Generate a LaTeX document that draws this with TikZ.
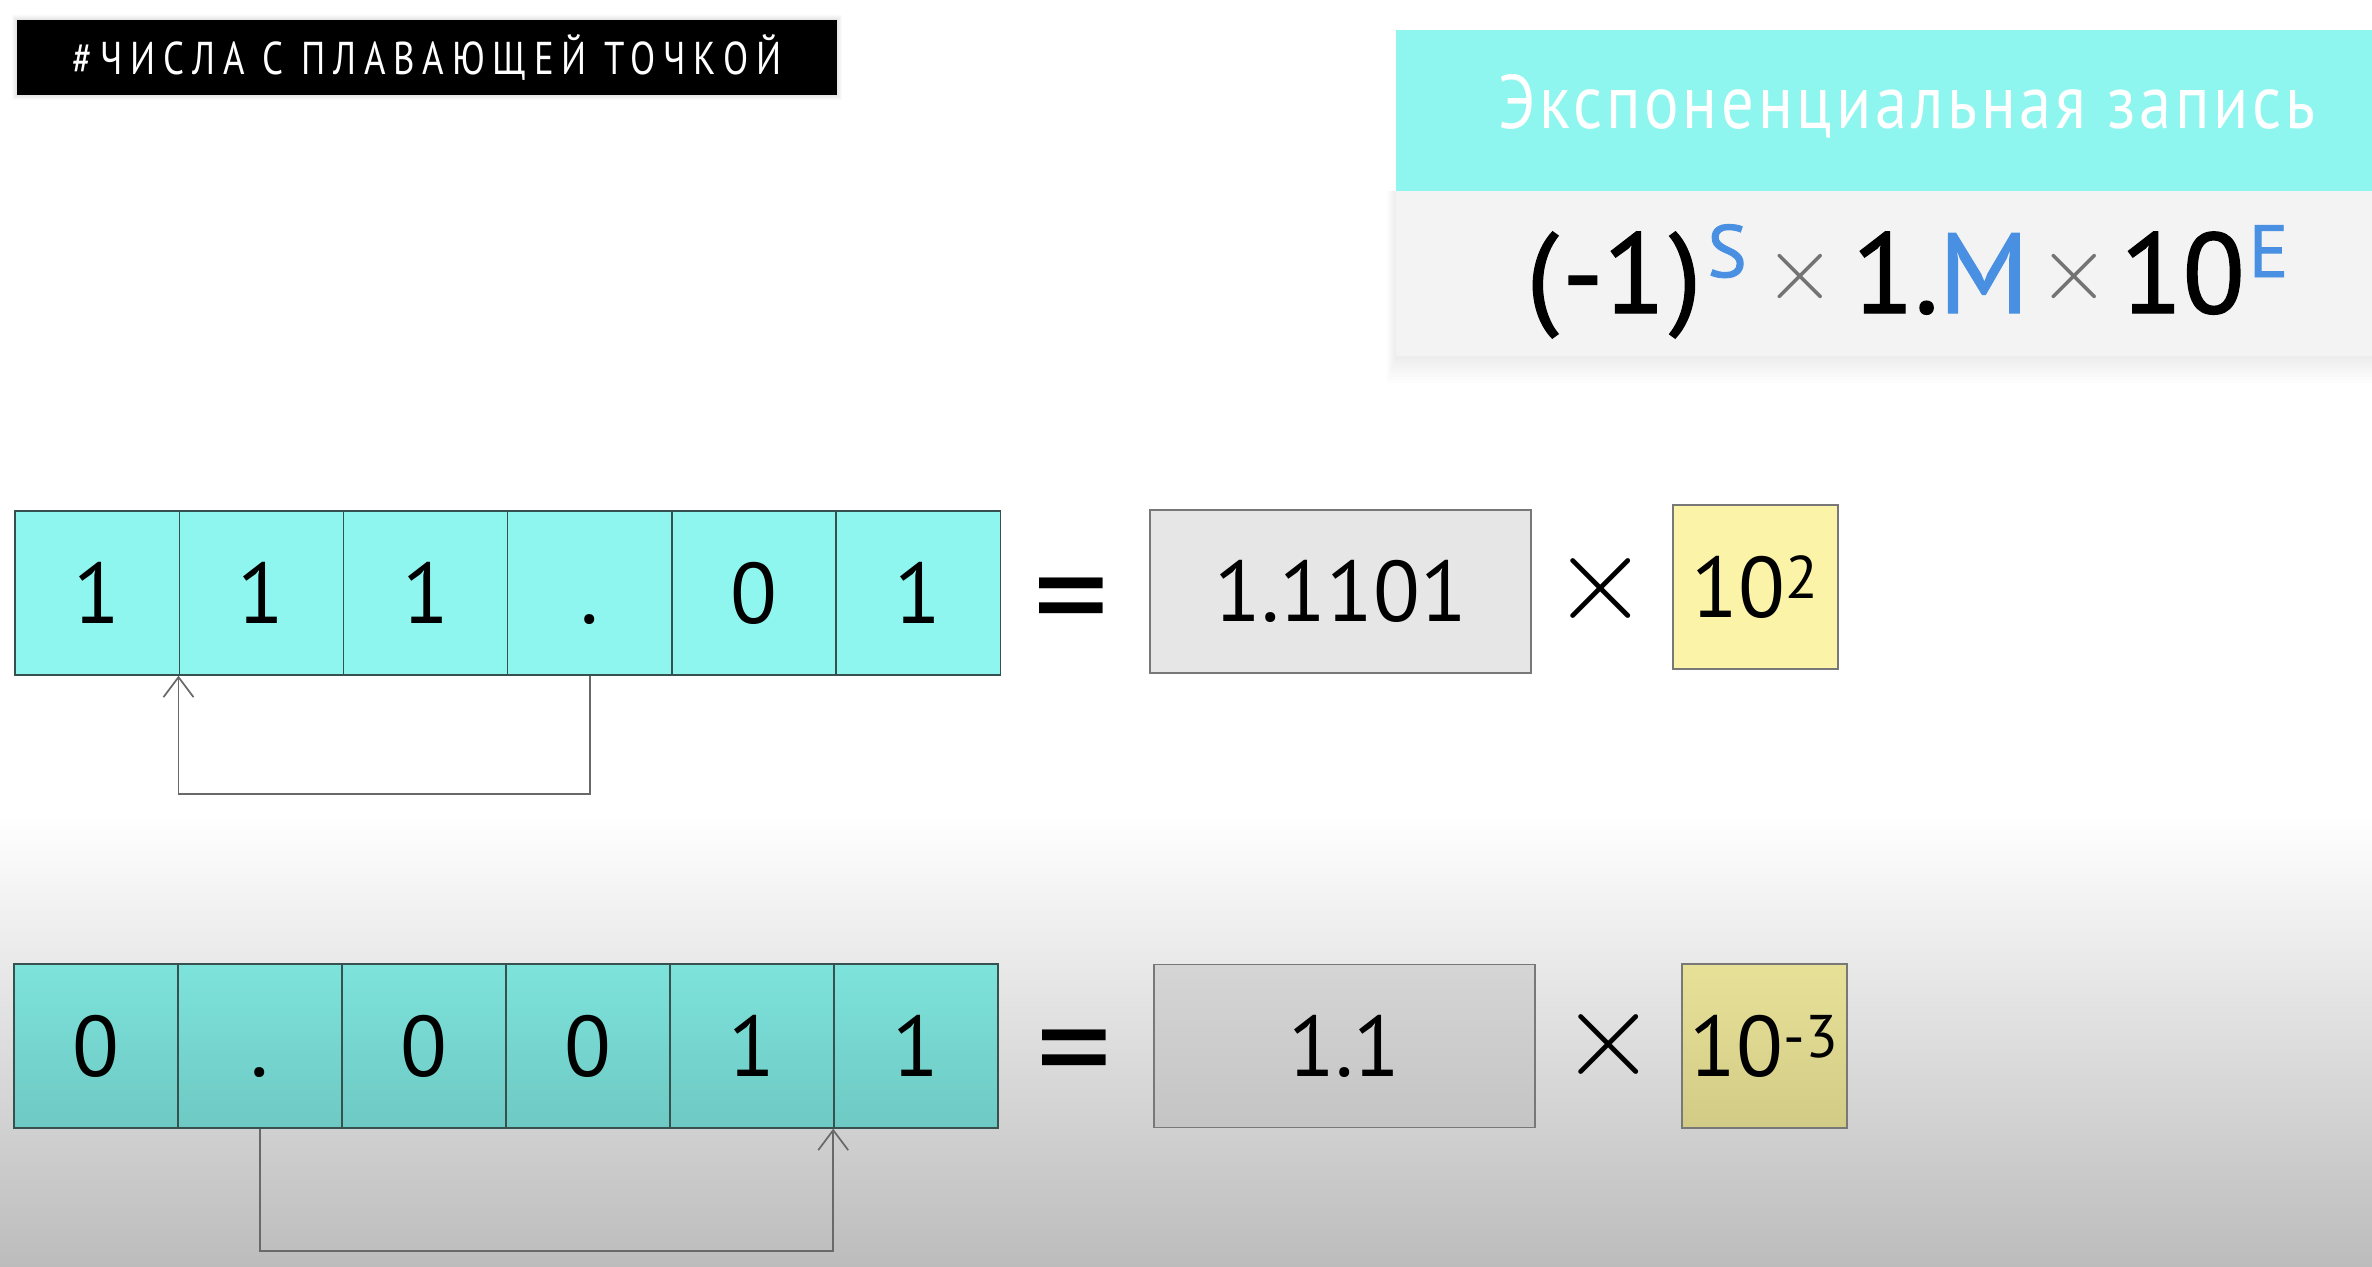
\documentclass[tikz,border=0pt]{standalone}
\usepackage{fontspec}
\setmainfont{PT Sans}
\newfontfamily\titlefont[FakeStretch=0.8,LetterSpace=17]{PT Sans}
\newfontfamily\headfont[FakeStretch=0.85,LetterSpace=5]{PT Sans}
\newfontfamily\formfont[FakeBold=1.2]{PT Sans}
\usetikzlibrary{arrows.meta}

\definecolor{cellcyan}{RGB}{142,246,239}
\definecolor{cellcyantp}{RGB}{125,227,219}
\definecolor{cellcyanbt}{RGB}{110,201,195}
\definecolor{mantgray}{RGB}{230,230,230}
\definecolor{mantgraytp}{RGB}{213,213,213}
\definecolor{mantgraybt}{RGB}{196,196,196}
\definecolor{expyel}{RGB}{251,243,168}
\definecolor{expyeltp}{RGB}{231,225,152}
\definecolor{expyelbt}{RGB}{210,203,134}
\definecolor{cellline}{RGB}{55,80,80}
\definecolor{boxline}{RGB}{120,120,120}
\definecolor{arrline}{RGB}{105,105,105}
\definecolor{formblue}{RGB}{74,144,226}
\definecolor{panelgray}{RGB}{243,243,243}
\definecolor{bgbottom}{RGB}{188,188,188}

% superscript and times sign of the formula
\newcommand\supblue[1]{\raisebox{18pt}{\fontsize{37}{37}\selectfont\color{formblue}#1}}
\newcommand\tmsgray{\raisebox{7pt}{\color{black!55}\scalebox{4.6}{\normalsize$\times$}}}

\tikzset{
  cellbox/.style={draw=cellline, line width=0.7pt, fill=cellcyan, inner sep=0pt,
    minimum width=82.1pt, minimum height=82pt, text height=30pt, text depth=0pt,
    font=\fontsize{43}{43}\selectfont},
  cellboxdk/.style={cellbox, top color=cellcyantp, bottom color=cellcyanbt},
  mantbox/.style={draw=boxline, line width=0.8pt, fill=mantgray, inner sep=0pt,
    minimum width=190.5pt, minimum height=81.5pt, text height=30pt, text depth=0pt,
    font=\fontsize{43}{43}\selectfont},
  mantboxdk/.style={mantbox, top color=mantgraytp, bottom color=mantgraybt},
  expbox/.style={draw=boxline, line width=0.8pt, fill=expyel, inner sep=0pt,
    minimum width=82.5pt, minimum height=82pt, text height=30pt, text depth=0pt,
    font=\fontsize{43}{43}\selectfont},
  expboxdk/.style={expbox, top color=expyeltp, bottom color=expyelbt},
  eqsign/.style={inner sep=0pt, font=\fontsize{75}{75}\selectfont},
  timesign/.style={inner sep=0pt},
  shiftarrow/.style={draw=arrline, line width=0.85pt, -{Straight Barb[length=10pt,width=15pt]}}
}

\begin{document}
\begin{tikzpicture}[x=0.5pt,y=-0.5pt]
\useasboundingbox (0,0) rectangle (2372,1266);

%Shape: Background
\fill[white] (0,0) rectangle (2372,1266);
\shade[top color=white, bottom color=bgbottom] (0,815) rectangle (2372,1266);

%Shape: Title bar
\foreach \k in {1,...,5}
  \fill[black, opacity=0.02] ({17-\k},{20-\k}) rectangle ({837+\k},{95+\k});
\node[fill=black, text=white, minimum width=410pt, minimum height=37.5pt, inner sep=0pt,
  font=\titlefont\fontsize{23}{23}\selectfont] (title) at (427,57.5) {\#ЧИСЛА С ПЛАВАЮЩЕЙ ТОЧКОЙ};

%Shape: Panel
\foreach \k in {1,...,9}
  \fill[black, opacity=0.008] ({1396-\k},191) rectangle (2372,{356+3*\k});
\fill[panelgray] (1396,191) rectangle (2372,356);
\fill[cellcyan] (1396,30) rectangle (2372,191);
% Text Node
\node[text=white, inner sep=0pt, font=\headfont\fontsize{38}{38}\selectfont] (headtxt) at (1907,106) {Экспоненциальная запись};
% Text Node
\node[anchor=base west, inner sep=0pt, font=\formfont\fontsize{57}{57}\selectfont] (formula) at (1526,313)
  {(\hspace{2pt}-1\hspace{2pt})\hspace{3pt}\supblue{S}\hspace{9pt}\tmsgray\hspace{8pt}1.{\color{formblue}M}\hspace{5pt}\tmsgray\hspace{5pt}10\hspace{2pt}\supblue{E}};

%Row: 111.01
\foreach \d [count=\i] in {1,1,1,.,0,1}
  \node[cellbox] (a\i) at ({-67.1+164.2*\i},593) {\d};
\node[eqsign] (aeq) at (1071,612.5) {=};
\node[mantbox] (amant) at (1340.5,591.5) {1.1101};
\node[timesign] (atimes) at (1601,588) {\scalebox{6.2}{$\times$}};
\node[expbox] (aexp) at (1755.5,587) {10\textsuperscript{2}};
\draw[shiftarrow] (a4.south) -- ++(0,118) -| (a2.south west);

%Row: 0.0011
\foreach \d [count=\i] in {0,.,0,0,1,1}
  \node[cellboxdk] (b\i) at ({-68+164*\i},1046) {\d};
\node[eqsign] (beq) at (1074,1064.5) {=};
\node[mantboxdk] (bmant) at (1344.5,1046) {1.1};
\node[timesign] (btimes) at (1609,1044) {\scalebox{6.2}{$\times$}};
\node[expboxdk] (bexp) at (1764.5,1046) {10\textsuperscript{-3}};
\draw[shiftarrow] (b2.south) -- ++(0,122) -| (b6.south west);
\end{tikzpicture}
\end{document}
